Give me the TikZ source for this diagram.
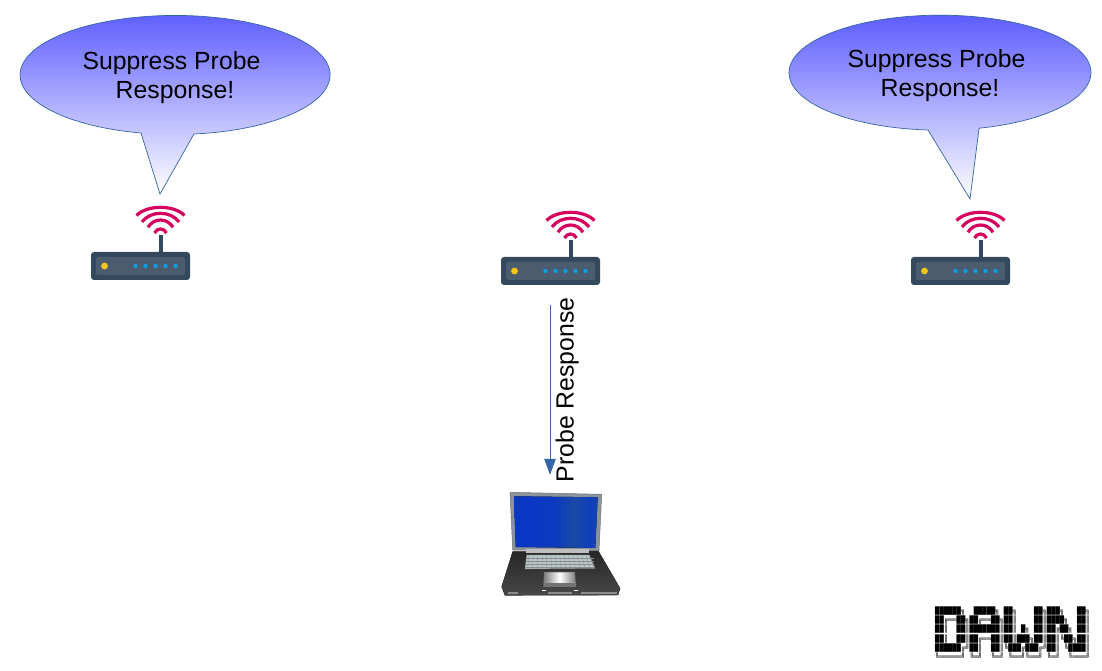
\documentclass[tikz,border=0pt]{standalone}
\usepackage{fontspec}
\setmainfont{Liberation Sans}
\setmonofont{DejaVu Sans Mono}
\usetikzlibrary{arrows.meta,calc}

\definecolor{calloutblue}{HTML}{5B5BFF}
\definecolor{edgeblue}{HTML}{3465A4}
\definecolor{routerdark}{HTML}{34495E}
\definecolor{routerpanel}{HTML}{4A5C6E}
\definecolor{wifired}{HTML}{D6005F}
\definecolor{ledblue}{HTML}{0F9DE0}
\definecolor{ledyellow}{HTML}{F5C518}
\definecolor{screenA}{HTML}{0A38C4}
\definecolor{screenB}{HTML}{1A4AA6}
\definecolor{screenC}{HTML}{0A4CD6}
\definecolor{lidgrey}{HTML}{8A949C}
\definecolor{keygrey}{HTML}{B8C8CB}

\pgfdeclarehorizontalshading{screenblue}{100bp}{color(0bp)=(screenA);color(25bp)=(screenA);color(38bp)=(screenA!80!screenB);color(48bp)=(screenB);color(58bp)=(screenA!70!screenB);color(66bp)=(screenB);color(75bp)=(screenC)}

\tikzset{
  callout/.style={draw=edgeblue,line width=0.7pt,top color=calloutblue,bottom color=white},
  callouttext/.style={align=center,inner sep=0pt,font=\fontsize{24.8}{28.5}\selectfont},
  probearrow/.style={-{Triangle[length=16pt,width=11.5pt]},draw=edgeblue,fill=edgeblue,line width=1pt},
  probelabel/.style={rotate=90,anchor=base,inner sep=0pt,font=\fontsize{24.8}{28.5}\selectfont},
  routerbody/.style={rectangle,fill=routerdark,rounded corners=3pt,minimum width=99pt,minimum height=28pt,inner sep=0pt},
  router/.pic={
    \node[routerbody] (-body) at (0,0) {};
    \fill[routerpanel,rounded corners=2pt] (-44.5,-9) rectangle (44.5,9);
    \draw[routerdark,line width=4pt] (20,14) -- (20,31);
    \foreach \hw/\ey/\ty in {24/50.5/58.7,18.5/44/52.7,12.5/38.7/46,6/33/37}
      \draw[wifired,line width=3.2pt] (20-\hw,\ey) .. controls (20-\hw*0.55,\ey+\ty*1.33-\ey*1.33) and (20+\hw*0.55,\ey+\ty*1.33-\ey*1.33) .. (20+\hw,\ey);
    \fill[ledyellow] (-36,0) circle (3.4pt);
    \foreach \lx in {-5,5,15,25,35}
      \fill[ledblue] (\lx,0) circle (2.2pt);
  },
  laptopkey/.style={draw=black!45,line width=0.3pt}
}

\begin{document}
\begin{tikzpicture}[x=1pt,y=1pt,>=Stealth]
\useasboundingbox (0,0) rectangle (1102,671);
% speech bubbles
\path[callout] (141,538) arc[start angle=257.3,end angle=-83,x radius=155,y radius=59.5] -- (160,477) -- cycle;
\path[callout] (928,541) arc[start angle=265.44,end angle=-75,x radius=151,y radius=57.5] -- (970,472) -- cycle;
\node[callouttext] (leftmsg) at (171.5,593.5) {Suppress Probe\\\hspace*{7pt}Response!};
\node[callouttext] (rightmsg) at (936.5,595.5) {Suppress Probe\\\hspace*{7pt}Response!};
% access points
\pic (apleft) at (140.5,405) {router};
\pic (apmid) at (550.5,400) {router};
\pic (apright) at (960.5,400) {router};
% laptop
\node[inner sep=0pt,minimum width=120pt,minimum height=106pt] (laptop) at (561,127) {};
\begin{scope}[shift={(0,671)},y=-1pt]
\fill[lidgrey,draw=black!55,line width=0.5pt] (510,492.3) -- (601.7,494.3) -- (599,550.7) -- (512.7,550) -- cycle;
\fill[shading=screenblue] (514,496.3) -- (597.7,497.3) -- (595.3,548) -- (515.7,547) -- cycle;
\fill[top color=black!85,bottom color=black!72,draw=black!80,line width=0.4pt] (512.7,551.7) -- (598.3,551) -- (620,588.3) -- (618,595) -- (505,595.3) -- (501.7,586.7) -- cycle;
\fill[black!25] (526,549) -- (589.3,549) -- (589.3,553.5) -- (526,553.5) -- cycle;
\fill[keygrey,draw=black!50,line width=0.4pt] (526.7,555) -- (589.3,555) -- (595,568.3) -- (525,569) -- cycle;
\foreach \ky in {558,561,564,567}
  \draw[laptopkey] (526.2,\ky) -- (593.5,\ky);
\foreach \kx in {0,...,13}
  \draw[laptopkey] (529+\kx*4.4,555.5) -- (527.5+\kx*4.8,568.5);
\fill[black!55] (544,572) -- (575,572) -- (576,587) -- (543.3,587) -- cycle;
\shade[left color=black!50,right color=black!50,middle color=white] (544.5,572.5) -- (574.5,572.5) -- (575.3,583) -- (544,583) -- cycle;
\fill[black!45] (508,592) rectangle (518,594);
\fill[black!45] (548,592) rectangle (572,594);
\fill[black!45] (581,592) rectangle (617,594);
\fill[white] (541.5,590) rectangle (545.5,591);
\fill[white] (573.5,590) rectangle (577.5,591);
\end{scope}
% probe response
\draw[probearrow] ([xshift=-11pt,yshift=-20pt]apmid-body.south -| laptop.south) -- ([xshift=-11pt,yshift=16pt]laptop.north);
\node[probelabel] (probetext) at (573.5,281) {Probe Response};
% logo
\node[inner sep=0pt,anchor=north west,align=left,font=\ttfamily\fontsize{7.14}{9.3}\selectfont] (dawnlogo) at (935,64.5) {██████╗~~█████╗~██╗~~~~██╗███╗~~~██╗\\██╔══██╗██╔══██╗██║~~~~██║████╗~~██║\\██║~~██║███████║██║~█╗~██║██╔██╗~██║\\██║~~██║██╔══██║██║███╗██║██║╚██╗██║\\██████╔╝██║~~██║╚███╔███╔╝██║~╚████║\\╚═════╝~╚═╝~~╚═╝~╚══╝╚══╝~╚═╝~~╚═══╝};
\end{tikzpicture}
\end{document}
